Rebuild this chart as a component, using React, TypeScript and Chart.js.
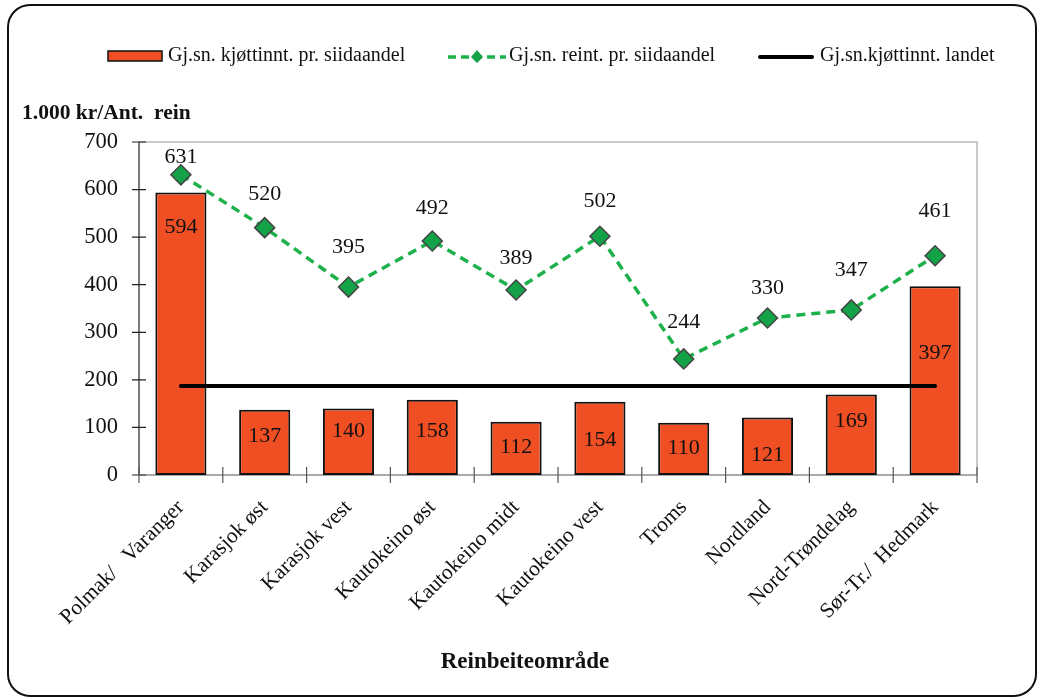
import React, { useEffect, useRef } from "react";
import { Chart, registerables } from "chart.js";

Chart.register(...registerables);

const categories = [
  "Polmak/   Varanger",
  "Karasjok øst",
  "Karasjok vest",
  "Kautokeino øst",
  "Kautokeino midt",
  "Kautokeino vest",
  "Troms",
  "Nordland",
  "Nord-Trøndelag",
  "Sør-Tr./  Hedmark",
];
const meatIncome = [594, 137, 140, 158, 112, 154, 110, 121, 169, 397];
const reindeer = [631, 520, 395, 492, 389, 502, 244, 330, 347, 461];
const nationalAvg = 187;
const nationalLine = categories.map(() => nationalAvg);

const seriesNames = [
  "Gj.sn. kjøttinnt. pr. siidaandel",
  "Gj.sn. reint. pr. siidaandel",
  "Gj.sn.kjøttinnt. landet",
];
const yTicks = [0, 100, 200, 300, 400, 500, 600, 700];
const yTitle = "1.000 kr/Ant.  rein";
const xTitle = "Reinbeiteområde";

// label offsets (px) relative to bar top / point
const barLabelOffset = [35, 26, 23, 31, 25, 38, 26, 38, 27, 67];
const pointLabelOffset = [18, 33, 40, 33, 32, 35, 37, 30, 40, 44];

const FONT = "'Liberation Serif', 'Times New Roman', serif";
const RED = "#F04E23";
const GREEN_LINE = "#1DB14B";
const GREEN_PT = "#13A247";

const decorPlugin = {
  id: "decor",
  beforeDraw(chart: any) {
    const ctx = chart.ctx;
    ctx.save();
    ctx.fillStyle = "#fff";
    ctx.fillRect(0, 0, chart.width, chart.height);
    ctx.beginPath();
    (ctx as any).roundRect(8, 5, 1028, 691, 22);
    ctx.lineWidth = 2;
    ctx.strokeStyle = "#111";
    ctx.stroke();
    ctx.restore();
  },
  beforeDatasetsDraw(chart: any) {
    const ctx = chart.ctx;
    const { left, right, top, bottom } = chart.chartArea;
    const xs = chart.scales.x;
    const ys = chart.scales.y;
    ctx.save();
    ctx.strokeStyle = "#B8B8B8";
    ctx.lineWidth = 1.5;
    ctx.beginPath();
    ctx.moveTo(left, top);
    ctx.lineTo(right, top);
    ctx.lineTo(right, bottom);
    ctx.stroke();
    ctx.strokeStyle = "#222";
    ctx.lineWidth = 1.2;
    ctx.beginPath();
    ctx.moveTo(left, top);
    ctx.lineTo(left, bottom);
    for (const v of yTicks) {
      const y = ys.getPixelForValue(v);
      ctx.moveTo(left - 7, y);
      ctx.lineTo(left + 7, y);
    }
    ctx.stroke();
    ctx.strokeStyle = "#555";
    ctx.beginPath();
    ctx.moveTo(left, bottom);
    ctx.lineTo(right, bottom);
    const n = categories.length;
    const w = xs.getPixelForValue(1) - xs.getPixelForValue(0);
    for (let i = 0; i <= n; i++) {
      const x = xs.getPixelForValue(0) - w / 2 + i * w;
      ctx.moveTo(x, bottom - 8);
      ctx.lineTo(x, bottom + 8);
    }
    ctx.stroke();
    ctx.restore();
  },
  afterDraw(chart: any) {
    const ctx = chart.ctx;
    ctx.save();
    ctx.fillStyle = "#111";
    ctx.textAlign = "center";
    ctx.textBaseline = "middle";
    ctx.font = `22px ${FONT}`;
    const barMeta = chart.getDatasetMeta(0);
    barMeta.data.forEach((el: any, i: number) => {
      ctx.fillText(String(meatIncome[i]), el.x, el.y + barLabelOffset[i]);
    });
    const lineMeta = chart.getDatasetMeta(2);
    lineMeta.data.forEach((el: any, i: number) => {
      ctx.fillText(String(reindeer[i]), el.x, el.y - pointLabelOffset[i]);
    });
    ctx.font = `bold 21.5px ${FONT}`;
    ctx.textAlign = "left";
    ctx.fillText(yTitle, 22, 113);
    ctx.font = `bold 23px ${FONT}`;
    ctx.textAlign = "center";
    ctx.fillText(xTitle, 525, 662);

    const ly = 56;
    ctx.font = `20px ${FONT}`;
    ctx.textAlign = "left";
    ctx.fillStyle = RED;
    ctx.fillRect(108, ly - 5, 54, 10);
    ctx.strokeStyle = "#111";
    ctx.lineWidth = 1.5;
    ctx.strokeRect(108, ly - 5, 54, 10);
    ctx.fillStyle = "#111";
    ctx.fillText(seriesNames[0], 168, ly);
    ctx.strokeStyle = GREEN_LINE;
    ctx.lineWidth = 3.5;
    ctx.setLineDash([8, 5]);
    ctx.beginPath();
    ctx.moveTo(448, ly + 1);
    ctx.lineTo(506, ly + 1);
    ctx.stroke();
    ctx.setLineDash([]);
    ctx.beginPath();
    ctx.moveTo(477, ly - 6);
    ctx.lineTo(483, ly + 1);
    ctx.lineTo(477, ly + 7);
    ctx.lineTo(471, ly + 1);
    ctx.closePath();
    ctx.fillStyle = GREEN_PT;
    ctx.fill();
    ctx.fillStyle = "#111";
    ctx.fillText(seriesNames[1], 509, ly);
    ctx.strokeStyle = "#000";
    ctx.lineWidth = 4;
    ctx.lineCap = "round";
    ctx.beginPath();
    ctx.moveTo(760, ly + 1);
    ctx.lineTo(812, ly + 1);
    ctx.stroke();
    ctx.fillText(seriesNames[2], 820, ly);
    ctx.restore();
  },
};

export default function App() {
  const ref = useRef<HTMLCanvasElement | null>(null);
  useEffect(() => {
    document.body.style.margin = "0";
    const canvas = ref.current!;
    const chart = new Chart(canvas, {
      type: "bar",
      data: {
        labels: categories,
        datasets: [
          {
            type: "bar",
            label: seriesNames[0],
            data: meatIncome,
            backgroundColor: RED,
            borderColor: "#111",
            borderWidth: 2,
            borderSkipped: false,
            categoryPercentage: 1,
            barPercentage: 0.61,
            order: 3,
          },
          {
            type: "line",
            label: seriesNames[2],
            data: nationalLine,
            borderColor: "#000",
            borderWidth: 4,
            borderCapStyle: "round",
            pointRadius: 0,
            order: 2,
          },
          {
            type: "line",
            label: seriesNames[1],
            data: reindeer,
            borderColor: GREEN_LINE,
            borderWidth: 3.5,
            borderDash: [9, 6],
            pointStyle: "rectRot",
            pointRadius: 10,
            pointBackgroundColor: GREEN_PT,
            pointBorderColor: "#444",
            pointBorderWidth: 1.5,
            order: 1,
          },
        ] as any,
      },
      options: {
        responsive: false,
        animation: false,
        layout: { padding: { left: 20, top: 142, right: 62, bottom: 0 } },
        plugins: {
          legend: { display: false },
          tooltip: { enabled: false },
        },
        scales: {
          x: {
            grid: { display: false, drawTicks: false },
            border: { display: false },
            ticks: {
              color: "#111",
              font: { family: FONT, size: 21.5 },
              minRotation: 45,
              maxRotation: 45,
              padding: 20,
            },
            afterFit: (s: any) => {
              s.height = 224;
            },
          },
          y: {
            min: 0,
            max: 700,
            grid: { display: false, drawTicks: false },
            border: { display: false },
            ticks: {
              stepSize: 100,
              color: "#111",
              font: { family: FONT, size: 22.5 },
              padding: 21,
            },
            afterFit: (s: any) => {
              s.width = 119;
            },
          },
        },
      } as any,
      plugins: [decorPlugin],
    });
    return () => chart.destroy();
  }, []);
  return (
    <div style={{ width: 1039, height: 699 }}>
      <canvas ref={ref} width={1039} height={699} style={{ display: "block" }} />
    </div>
  );
}
